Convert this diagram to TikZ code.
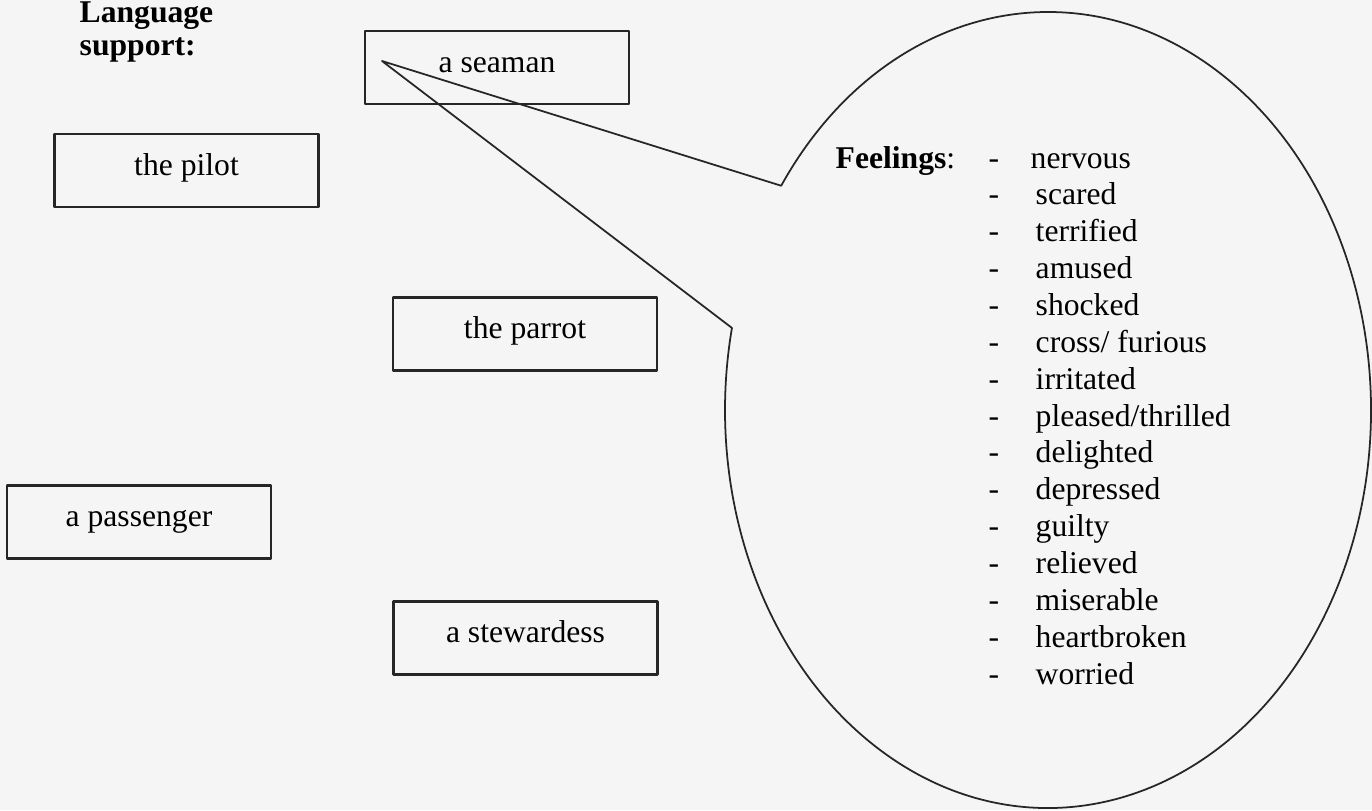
\documentclass[tikz,border=0pt]{standalone}
\usepackage{fontspec}
\setmainfont{Liberation Serif}
\usetikzlibrary{positioning}
\begin{document}
\begin{tikzpicture}[line cap=round, line join=round, font=\fontsize{9pt}{10.5pt}\selectfont]
	\tikzset{role/.style={draw=black!85, line width=.6pt, minimum width=2.64cm, minimum height=.73cm, inner sep=0pt, text height=4pt, text depth=1.2pt},
		word/.style={anchor=base west, inner sep=0pt}}
	\fill[black!4] (0,0) rectangle (13.72,-8.10);
	\useasboundingbox (0,0) rectangle (13.72,-8.10);
	\node[word, font=\fontsize{9pt}{10.5pt}\selectfont\bfseries] (lang) at (.79,-.22) {Language};
	\node[word, font=\fontsize{9pt}{10.5pt}\selectfont\bfseries] (support) at (.79,-.55) {support:};
	% the five boxes
	\node[role] (seaman) at (4.97,-.675) {a seaman};
	\node[role] (pilot) at (1.865,-1.705) {the pilot};
	\node[role] (parrot) at (5.25,-3.34) {the parrot};
	\node[role] (passenger) at (1.39,-5.22) {a passenger};
	\node[role] (stewardess) at (5.255,-6.38) {a stewardess};
	% speech bubble
	\coordinate (tip) at (3.82,-.61);
	\coordinate (bubble) at (10.48,-4.10);
	\draw[black!85, line width=.5pt] (tip) -- ([shift={(145.7:3.23cm and 3.98cm)}]bubble)
		arc[start angle=145.7, end angle=-191.9, x radius=3.23, y radius=3.98] -- cycle;
	\node[word, font=\fontsize{9pt}{10.5pt}\selectfont\bfseries] (feel) at (8.35,-1.68) {Feelings\textmd{:}};
	\foreach \w [count=\i from 0] in {nervous, scared, terrified, amused, shocked, cross/ furious, irritated, pleased/thrilled, delighted, depressed, guilty, relieved, miserable, heartbroken, worried}{
		\node[word] (dash\i) at (9.88,-1.68-.3686*\i) {-};
		\node[word] (feeling\i) at ({10.35-.05*(\i==0)},-1.68-.3686*\i) {\w};
	}
\end{tikzpicture}
\end{document}
